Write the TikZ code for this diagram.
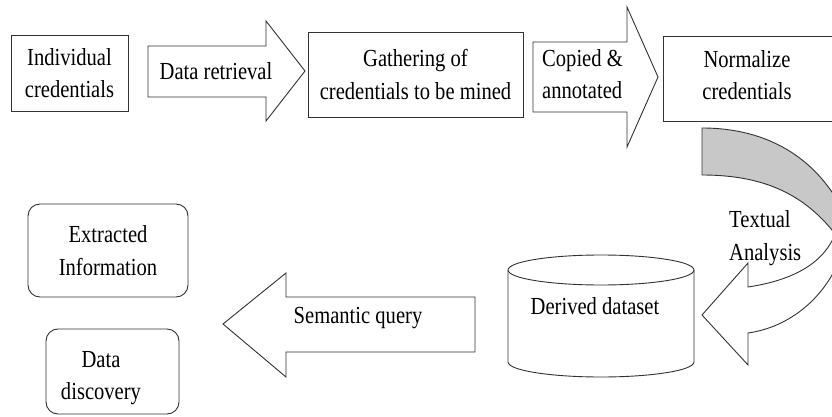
\documentclass[tikz,border=0pt]{standalone}
\usepackage{fontspec}
\setmainfont{Liberation Serif}[FakeStretch=0.84]
\definecolor{bandgray}{RGB}{200,200,200}
\definecolor{edge}{RGB}{50,50,50}
\tikzset{
  lbl/.style={font=\fontsize{24.5}{32.5}\selectfont, inner sep=2pt, align=center},
  box/.style={lbl, draw=edge, line width=0.9pt, fill=white},
  rbox/.style={box, rounded corners=12pt},
  blockarrow/.style={draw=edge, line width=0.9pt, fill=white, line join=miter}
}
\begin{document}
\begin{tikzpicture}[x=1pt,y=-1pt]
   \useasboundingbox (0,0) rectangle (832,417);
   \clip (0,0) rectangle (832,417);
   \fill[white] (0,0) rectangle (832,417);

   % top row
   \node[box, minimum width=117pt, minimum height=76pt] (indiv) at (69.5,73) {Individual\\credentials};
   \draw[blockarrow]
   (148,46) -- (266,46) -- (266,21) -- (305,71) -- (266,121) -- (266,97) -- (148,97) -- cycle;
   \node[lbl] (retrieve) at (216,71) {Data retrieval};

   \node[box, minimum width=215pt, minimum height=85pt] (gather) at (415.5,74.5) {Gathering of\\credentials to be mined};
   \draw[blockarrow]
   (533,42) -- (627,42) -- (627,7) -- (658,77) -- (627,147) -- (627,112) -- (533,112) -- cycle;
   \node[lbl, align=left, anchor=west] (copied) at (540,74) {Copied \&\\annotated};

   \node[box, minimum width=182pt, minimum height=85pt] (normbox) at (754,78.5) {};
   \node[lbl] (norm) at (747,75) {Normalize\\credentials};

   % curved arrow, back face
   \draw[line width=0.9pt, draw=edge, fill=bandgray]
   (702,128) .. controls (770,128) and (815,160) .. (840,205) --
   (836,235) .. controls (805,195) and (765,175) .. (702,175) -- cycle;
   % curved arrow, front face with head
   \draw[blockarrow]
   (836,232) .. controls (825,262) and (795,280) .. (748,287) --
   (748,263) -- (702,315) -- (748,365) -- (748,333) ..
   controls (805,325) and (842,275) .. (845,235) -- cycle;
   \node[lbl, align=left, anchor=west] (textual) at (727,238) {Textual\\Analysis};

   % derived dataset
   \draw[line width=0.9pt, draw=edge, fill=white]
   (508,270) -- (508,362) arc[start angle=180, end angle=0, x radius=93, y radius=15] -- (694,270);
   \draw[line width=0.9pt, draw=edge, fill=white] (601,270) ellipse[x radius=93, y radius=15];
   \node[lbl] (dataset) at (595,306) {Derived dataset};

   \draw[blockarrow]
   (475,297) -- (286,297) -- (286,273) -- (223,324) -- (286,377) -- (286,352) -- (475,352) -- cycle;
   \node[lbl] (query) at (358,318) {Semantic query};

   % results
   \node[rbox, minimum width=160pt, minimum height=93pt] (extract) at (108,250.5) {Extracted\\Information};
   \node[rbox, minimum width=133pt, minimum height=85pt] (discbox) at (112.5,371.5) {};
   \node[lbl] (disc) at (101,378) {Data\\discovery};
\end{tikzpicture}
\end{document}
